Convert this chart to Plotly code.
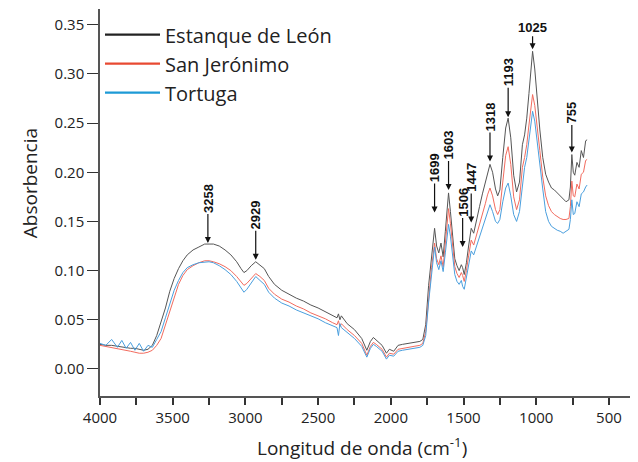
import plotly.graph_objects as go

series_names = ["Estanque de León", "San Jerónimo", "Tortuga"]

wavenumber = [4000, 3960, 3920, 3880, 3850, 3820, 3790, 3760, 3730, 3700, 3670, 3640, 3610, 3580,
              3550, 3520, 3490, 3460, 3430, 3400, 3360, 3320, 3280, 3250, 3220, 3180, 3140, 3100,
              3060, 3030, 3010, 2990, 2960, 2929, 2900, 2870, 2840, 2800, 2750, 2700, 2650, 2600,
              2550, 2500, 2450, 2400, 2370, 2360, 2350, 2340, 2300, 2250, 2200, 2165, 2140, 2120,
              2100, 2060, 2030, 2010, 1980, 1950, 1920, 1880, 1840, 1800, 1780, 1760, 1740, 1720,
              1699, 1685, 1670, 1655, 1640, 1625, 1603, 1590, 1575, 1560, 1545, 1530, 1515, 1506,
              1495, 1480, 1465, 1447, 1430, 1410, 1390, 1370, 1350, 1335, 1318, 1300, 1280, 1265,
              1250, 1230, 1210, 1193, 1175, 1155, 1135, 1115, 1095, 1080, 1065, 1050, 1040, 1025,
              1010, 995, 975, 955, 935, 915, 895, 875, 855, 835, 815, 795, 775, 765, 755, 745,
              735, 720, 705, 690, 675, 660, 650]

estanque = [0.025, 0.024, 0.024, 0.023, 0.023, 0.022, 0.021, 0.021, 0.020, 0.019, 0.020, 0.024, 0.034, 0.047,
            0.062, 0.079, 0.092, 0.102, 0.110, 0.116, 0.121, 0.124, 0.127, 0.127, 0.127, 0.125, 0.121, 0.116,
            0.109, 0.102, 0.098, 0.100, 0.105, 0.109, 0.106, 0.102, 0.094, 0.086, 0.080, 0.076, 0.072, 0.069,
            0.065, 0.062, 0.058, 0.054, 0.052, 0.056, 0.050, 0.054, 0.046, 0.040, 0.031, 0.019, 0.028, 0.032,
            0.029, 0.024, 0.016, 0.020, 0.018, 0.024, 0.025, 0.026, 0.027, 0.028, 0.030, 0.045, 0.085, 0.115,
            0.143, 0.125, 0.118, 0.128, 0.114, 0.140, 0.179, 0.160, 0.135, 0.112, 0.105, 0.100, 0.106, 0.103,
            0.096, 0.108, 0.125, 0.143, 0.138, 0.150, 0.165, 0.178, 0.190, 0.200, 0.208, 0.200, 0.183, 0.176,
            0.182, 0.215, 0.245, 0.255, 0.235, 0.197, 0.180, 0.190, 0.228, 0.238, 0.255, 0.280, 0.300, 0.323,
            0.305, 0.275, 0.243, 0.215, 0.198, 0.190, 0.184, 0.182, 0.179, 0.176, 0.173, 0.170, 0.172, 0.185,
            0.218, 0.200, 0.197, 0.210, 0.205, 0.222, 0.215, 0.232, 0.233]

san_jeronimo = [0.024, 0.023, 0.022, 0.021, 0.020, 0.019, 0.018, 0.017, 0.016, 0.016, 0.017, 0.019, 0.024, 0.031,
                0.045, 0.060, 0.074, 0.086, 0.095, 0.101, 0.105, 0.108, 0.110, 0.110, 0.109, 0.107, 0.104, 0.100,
                0.094, 0.088, 0.085, 0.087, 0.092, 0.097, 0.094, 0.090, 0.082, 0.076, 0.071, 0.068, 0.064, 0.061,
                0.057, 0.054, 0.051, 0.047, 0.045, 0.049, 0.043, 0.046, 0.040, 0.034, 0.026, 0.014, 0.023, 0.027,
                0.025, 0.020, 0.012, 0.016, 0.015, 0.020, 0.021, 0.022, 0.023, 0.024, 0.026, 0.038, 0.075, 0.103,
                0.128, 0.112, 0.106, 0.115, 0.104, 0.128, 0.163, 0.148, 0.125, 0.104, 0.097, 0.093, 0.098, 0.095,
                0.089, 0.100, 0.115, 0.131, 0.126, 0.136, 0.148, 0.158, 0.168, 0.177, 0.184, 0.176, 0.162, 0.157,
                0.162, 0.190, 0.217, 0.226, 0.208, 0.175, 0.162, 0.172, 0.205, 0.215, 0.228, 0.248, 0.263, 0.279,
                0.268, 0.245, 0.222, 0.195, 0.176, 0.166, 0.160, 0.157, 0.155, 0.153, 0.152, 0.152, 0.153, 0.165,
                0.191, 0.176, 0.175, 0.188, 0.183, 0.198, 0.200, 0.212, 0.213]

tortuga = [0.026, 0.024, 0.030, 0.022, 0.029, 0.021, 0.027, 0.019, 0.026, 0.018, 0.024, 0.022, 0.030, 0.038,
           0.052, 0.066, 0.080, 0.090, 0.098, 0.103, 0.106, 0.108, 0.109, 0.109, 0.108, 0.105, 0.101, 0.096,
           0.089, 0.082, 0.078, 0.081, 0.088, 0.094, 0.090, 0.086, 0.078, 0.072, 0.067, 0.064, 0.060, 0.057,
           0.054, 0.051, 0.047, 0.044, 0.042, 0.034, 0.046, 0.042, 0.037, 0.031, 0.023, 0.012, 0.021, 0.025,
           0.023, 0.018, 0.010, 0.014, 0.013, 0.018, 0.019, 0.020, 0.021, 0.022, 0.024, 0.034, 0.068, 0.097,
           0.124, 0.108, 0.101, 0.110, 0.099, 0.118, 0.147, 0.135, 0.115, 0.096, 0.089, 0.086, 0.090, 0.084,
           0.081, 0.092, 0.106, 0.120, 0.116, 0.125, 0.135, 0.144, 0.153, 0.161, 0.167, 0.160, 0.150, 0.148,
           0.152, 0.170, 0.184, 0.189, 0.176, 0.157, 0.150, 0.160, 0.190, 0.205, 0.215, 0.232, 0.248, 0.262,
           0.252, 0.232, 0.212, 0.183, 0.160, 0.150, 0.145, 0.143, 0.141, 0.140, 0.138, 0.140, 0.142, 0.152,
           0.172, 0.157, 0.158, 0.170, 0.165, 0.178, 0.180, 0.185, 0.187]

peak_labels = ["3258", "2929", "1699", "1603", "1506", "1447", "1318", "1193", "1025", "755"]
peak_x = [3258, 2929, 1699, 1603, 1506, 1447, 1318, 1193, 1025, 755]
peak_y = [0.128, 0.111, 0.159, 0.182, 0.124, 0.149, 0.211, 0.256, 0.325, 0.220]

line_colors = ["#555555", "#f26b5e", "#4a9fde"]
legend_colors = ["#222222", "#e84a32", "#1d9ad6"]

fig = go.Figure()
for name, vals, lc in zip(series_names, [estanque, san_jeronimo, tortuga], line_colors):
    fig.add_trace(go.Scatter(x=wavenumber, y=vals, mode="lines", name=name,
                             line=dict(color=lc, width=1), showlegend=False))
for name, lc in zip(series_names, legend_colors):
    fig.add_trace(go.Scatter(x=[None], y=[None], mode="lines", name=name,
                             line=dict(color=lc, width=2.2), showlegend=True))

for lab, px, py in zip(peak_labels, peak_x, peak_y):
    horiz = lab == "1025"
    ay = -22 if horiz else (-40 if lab == "755" else -45)
    fig.add_annotation(x=px, y=py, text="<b>" + lab + "</b>", showarrow=True,
                       ax=0, ay=ay, textangle=0 if horiz else -90,
                       arrowhead=2, arrowsize=1, arrowwidth=1.2, arrowcolor="#111111",
                       font=dict(family="Liberation Sans, Arial", size=13, color="#111111"))

fig.add_annotation(x=0.487, y=-0.132, xref="paper", yref="paper", showarrow=False,
                   xanchor="center", yanchor="middle",
                   text="Longitud de onda (cm<sup>-1</sup>)",
                   font=dict(family="Open Sans", size=19, color="#222222"))
fig.add_annotation(x=-0.130, y=0.550, xref="paper", yref="paper", showarrow=False,
                   xanchor="center", yanchor="middle",
                   text="Absorbencia", textangle=-90,
                   font=dict(family="Open Sans", size=19, color="#222222"))

fig.update_layout(
    width=638, height=462,
    margin=dict(l=92, r=8, t=1, b=74),
    paper_bgcolor="white", plot_bgcolor="white",
    font=dict(family="Open Sans", color="#222222"),
    legend=dict(x=0.0, y=0.984, xanchor="left", yanchor="top",
                font=dict(size=20, color="#222222"), bgcolor="rgba(0,0,0,0)",
                tracegroupgap=0, itemwidth=55),
    xaxis=dict(range=[4000, 300], tickmode="array",
               tickvals=[4000, 3500, 3000, 2500, 2000, 1500, 1000, 500],
               ticks="outside", ticklen=7, tickwidth=1.5, tickcolor="#333333",
               minor=dict(dtick=250, tick0=0, ticks="outside", ticklen=7, tickwidth=1.5, tickcolor="#333333"),
               showline=True, linecolor="#555555", linewidth=1.5, showgrid=False, zeroline=False,
               tickfont=dict(size=15, color="#222222")),
    yaxis=dict(range=[-0.0275, 0.366], tickmode="array",
               tickvals=[0, 0.05, 0.10, 0.15, 0.20, 0.25, 0.30, 0.35], tickformat=".2f",
               ticks="outside", ticklen=11, tickwidth=1.2, tickcolor="#333333",
               showline=True, linecolor="#555555", linewidth=1.5, showgrid=False, zeroline=False,
               tickfont=dict(size=15, color="#222222")),
)

fig.write_html("out.html")
